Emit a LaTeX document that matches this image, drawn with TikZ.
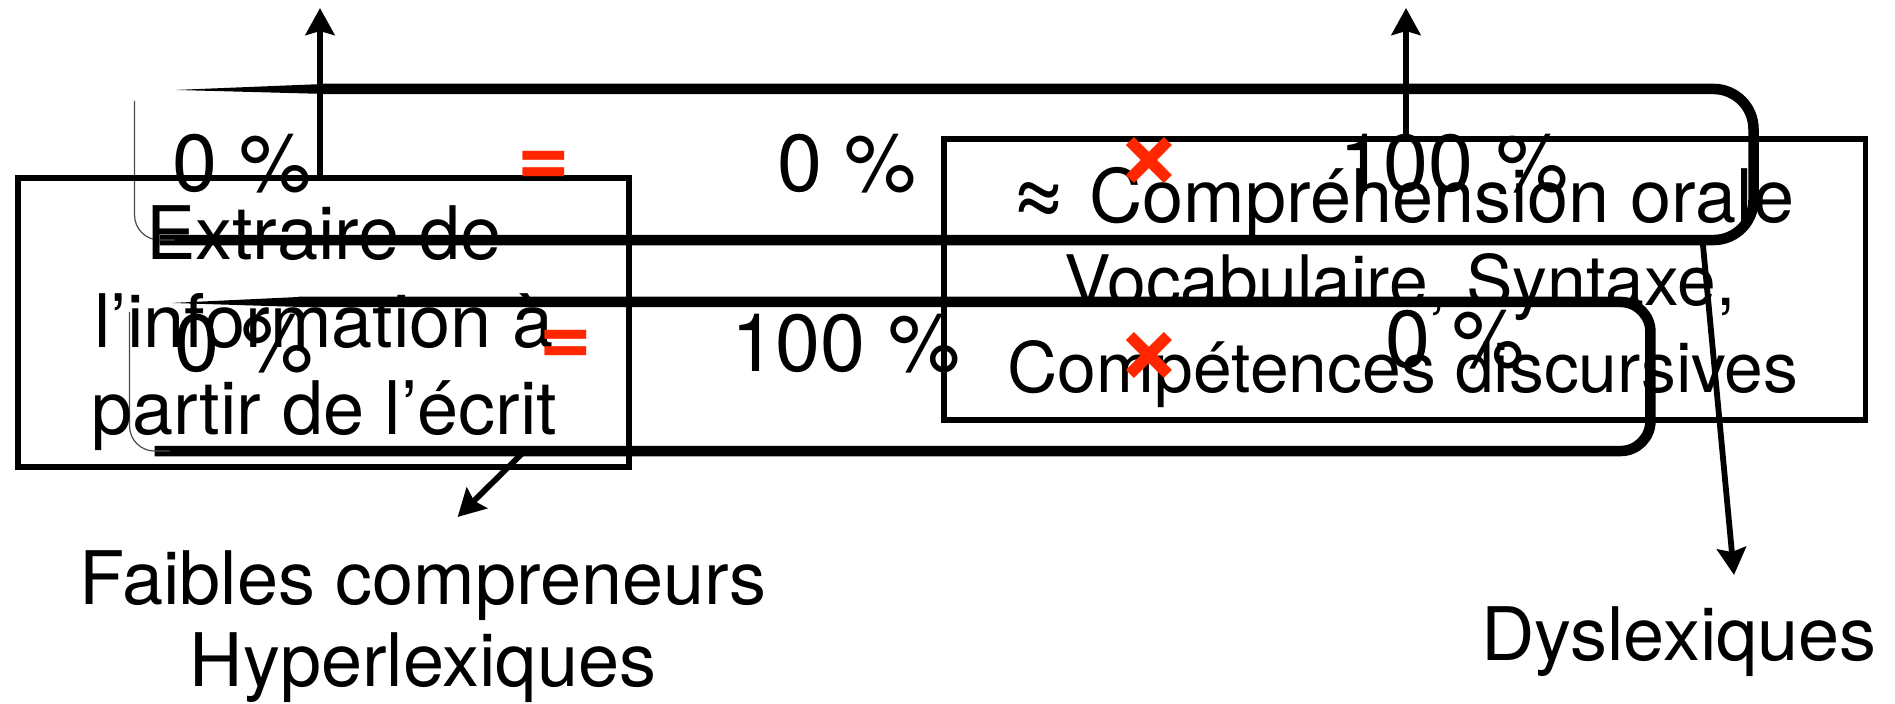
\documentclass[tikz,border=0pt]{standalone}
\usepackage{fontspec}
\setmainfont{TeX Gyre Heros}
\usetikzlibrary{arrows.meta,calc}
\definecolor{markred}{HTML}{FF2600}

\begin{document}
\begin{tikzpicture}[x=0.01cm, y=-0.01cm,
    every node/.style={inner sep=0pt, outer sep=0pt},
    >={Stealth[length=0.27cm, width=0.29cm, inset=0.04cm]},
    framebox/.style={draw, line width=0.055cm},
    brushline/.style={line width=0.105cm},
    hairline/.style={line width=0.012cm, black!70},
    pcttxt/.style={anchor=base west, font=\fontsize{23}{27}\selectfont},
    redmark/.style={text=markred, font=\fontsize{#1}{#1}\selectfont\bfseries},
    bigtxt/.style={font=\fontsize{21}{24.9}\selectfont},
    smalltxt/.style={anchor=base, font=\fontsize{19.8}{24}\selectfont},
    arrowline/.style={->, line width=0.058cm}]

    \useasboundingbox (0,0) rectangle (1895,704);

    % rounded bands, drawn like a brush stroke
    \node[minimum width=16.18cm, minimum height=1.51cm] (grpA) at (944,164.5) {};
    \node[minimum width=15.2cm, minimum height=1.49cm] (grpB) at (890,376.5) {};
    \fill ($(grpA.north west)+(41,1)$) -- ($(grpA.north west)+(190,-5)$) -- ($(grpA.north west)+(190,5)$) -- cycle;
    \draw[brushline, rounded corners=0.4cm] ($(grpA.north west)+(189,0)$) -| (grpA.south east) -- ($(grpA.south west)+(25,0)$);
    \draw[hairline, rounded corners=0.25cm] ($(grpA.north west)+(0,12)$) |- ($(grpA.south west)+(40,0)$);
    \fill ($(grpB.north west)+(42,1)$) -- ($(grpB.north west)+(170,-5)$) -- ($(grpB.north west)+(170,5)$) -- cycle;
    \draw[brushline, rounded corners=0.3cm] ($(grpB.north west)+(169,0)$) -| (grpB.south east) -- ($(grpB.south west)+(25,0)$);
    \draw[hairline, rounded corners=0.25cm] ($(grpB.north west)+(0,10)$) |- ($(grpB.south west)+(40,0)$);

    % the two boxes
    \node[framebox, minimum width=6.11cm, minimum height=2.89cm] (lbox) at (323.5,322.5) {};
    \node[bigtxt, align=center] (ltext) at (324,328.5) {Extraire de\\l’information à\\partir de l’écrit};
    \node[framebox, minimum width=9.21cm, minimum height=2.81cm] (rbox) at (1404.5,279.5) {};
    \node[bigtxt, anchor=base] (oral) at (1402,223) {{\fontsize{26}{26}\selectfont ≈} Compréhension orale};
    \node[smalltxt] (voc) at (1400,306) {Vocabulaire, Syntaxe,};
    \node[smalltxt] (comp) at (1403,393) {Compétences discursives};

    % percentages
    \node[pcttxt] (pcA1) at (172,192) {0 \%};
    \node[pcttxt] (pcA2) at (777,192) {0 \%};
    \node[pcttxt] (pcA3) at (1339,192) {100 \%};
    \node[pcttxt] (pcB1) at (174,372) {0 \%};
    \node[pcttxt] (pcB2) at (731,372) {100 \%};
    \node[pcttxt] (pcB3) at (1385,368) {0 \%};
    \node[redmark=25.6, anchor=base] (eqA) at (543.5,187) {=};
    \node[redmark=25.6, anchor=base] (eqB) at (565.5,366) {=};
    \node[redmark=33] (crA) at (1149,163) {×};
    \node[redmark=33] (crB) at (1149,358) {×};

    \node[bigtxt, align=center, font=\fontsize{21}{23.3}\selectfont] (faible) at (423,627) {Faibles compreneurs\\Hyperlexiques};
    \node[bigtxt, anchor=base west] (dys) at (1481,660) {Dyslexiques};

    \coordinate (upA) at (320,8);
    \coordinate (upB) at (1406,8);
    \coordinate (dysTip) at (1734,575);
    \draw[arrowline] (upA |- lbox.north) -- (upA);
    \draw[arrowline] (upB |- pcA3.north) -- (upB);
    \draw[arrowline, shorten >=0.486cm] ($(grpB.south west)+(395,0)$) -- (faible.north);
    \draw[arrowline] ($(grpA.south east)+(-51,0)$) -- (dysTip);
\end{tikzpicture}
\end{document}
